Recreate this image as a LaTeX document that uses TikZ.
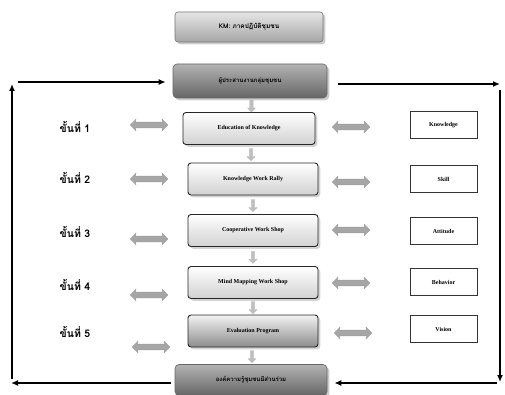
\documentclass[tikz,border=0pt]{standalone}
\usepackage{fontspec}
\setmainfont{Liberation Serif}
\newfontfamily\thaifont[Script=Thai]{Loma}
\usetikzlibrary{shapes.arrows,shadows,arrows.meta,calc}
\begin{document}
\begin{tikzpicture}[x=1pt,y=-1pt,
  headbox/.style={rounded corners=3pt, draw=black!55, line width=0.6pt,
    top color=black!10, bottom color=black!35, drop shadow={opacity=0.4},
    minimum width=148pt, minimum height=30pt, inner sep=0pt,
    font=\thaifont\bfseries\fontsize{6.5}{7}\selectfont},
  darkbox/.style={rounded corners=4pt, draw=black!60, line width=0.6pt,
    top color=black!30, bottom color=black!60, drop shadow={opacity=0.4},
    minimum width=154pt, minimum height=34pt, inner sep=0pt,
    font=\thaifont\bfseries\fontsize{6}{7}\selectfont},
  stepbox/.style={rounded corners=3pt, draw=black!85, line width=0.9pt,
    top color=white, bottom color=black!18, drop shadow={opacity=0.35},
    minimum width=130pt, minimum height=32pt, inner sep=0pt,
    font=\bfseries\fontsize{6}{7}\selectfont},
  laststep/.style={stepbox, top color=black!5, bottom color=black!45},
  resbox/.style={draw=black!80, line width=1pt, minimum width=67pt,
    minimum height=27pt, inner sep=0pt, font=\bfseries\fontsize{6}{7}\selectfont},
  steplabel/.style={font=\thaifont\bfseries\fontsize{10.5}{13}\selectfont, inner sep=0pt},
  darrow/.style={double arrow, fill=black!35, draw=black!40, line width=0.3pt,
    minimum height=38pt, minimum width=12pt, inner sep=2.4pt,
    double arrow head extend=2.8pt, double arrow head indent=0.5pt},
  downarr/.style={single arrow, shape border rotate=270, fill=black!25, draw=black!30,
    line width=0.3pt, minimum height=12pt, minimum width=8pt, inner sep=1.3pt,
    single arrow head extend=2pt},
  loop/.style={line width=1.6pt, -{Latex[length=7pt,width=6pt]}}
]
\useasboundingbox (0,0) rectangle (505,395);

% main column
\node[headbox] (km) at (249,27) {KM: ภาคปฏิบัติชุมชน};
\node[darkbox] (cb) at (250,81) {ผู้ประสานงานกลุ่มชุมชน};
\node[stepbox, minimum width=132pt] (s1) at (249,128.5) {Education of Knowledge};
\node[stepbox] (s2) at (253,179) {Knowledge Work Rally};
\node[stepbox] (s3) at (253,230.5) {Cooperative Work Shop};
\node[stepbox] (s4) at (253,282.5) {Mind Mapping Work Shop};
\node[laststep] (s5) at (253,331) {Evaluation Program};
\node[darkbox, minimum width=152pt, minimum height=31pt] (bb) at (251,380) {องค์ความรู้ชุมชนมีส่วนร่วม};

% small down arrows
\node[downarr] (d0) at ($(cb.south)!0.5!(s1.north)+(2,0)$) {};
\node[downarr] (d1) at ($(s1.south)!0.5!(s2.north)$) {};
\node[downarr] (d2) at ($(s2.south)!0.5!(s3.north)$) {};
\node[downarr] (d3) at ($(s3.south)!0.5!(s4.north)$) {};
\node[downarr] (d4) at ($(s4.south)!0.5!(s5.north)$) {};
\node[downarr] (d5) at ($(s5.south)!0.5!(bb.north)$) {};

% step labels
\node[steplabel] (l1) at (75,127) {ขั้นที่ 1};
\node[steplabel] (l2) at (75,178) {ขั้นที่ 2};
\node[steplabel] (l3) at (75,232) {ขั้นที่ 3};
\node[steplabel] (l4) at (75,285) {ขั้นที่ 4};
\node[steplabel] (l5) at (75,332) {ขั้นที่ 5};

% left double arrows
\node[darrow] (la1) at (149,125) {};
\node[darrow] (la2) at (149,179) {};
\node[darrow] (la3) at (149,239) {};
\node[darrow] (la4) at (149,295) {};
\node[darrow] (la5) at (151,347) {};

% right double arrows
\node[darrow] (ra1) at (351,127) {};
\node[darrow] (ra2) at (351,182) {};
\node[darrow] (ra3) at (351,230) {};
\node[darrow] (ra4) at (351,283) {};
\node[darrow] (ra5) at (353,333) {};

% result boxes
\node[resbox] (r1) at (443.5,125) {Knowledge};
\node[resbox] (r2) at (443.5,179.5) {Skill};
\node[resbox] (r3) at (443.5,231) {Attitude};
\node[resbox] (r4) at (443.5,282) {Behavior};
\node[resbox] (r5) at (443.5,329) {Vision};

% outer loop
\coordinate (lbot) at (12,379);
\coordinate (ltop) at (12,84);
\coordinate (tl) at (18,82);
\coordinate (tr) at (500,84);
\coordinate (rtop) at (500,90);
\coordinate (rbot) at (500,382);
\coordinate (br) at (497,383);
\coordinate (bl) at (11,383);

\draw[loop] (lbot) -- (ltop);
\draw[loop] (tl) -- ([xshift=-7pt,yshift=-1pt]cb.west);
\draw[loop] ([xshift=11pt,yshift=-3pt]cb.east) -- (tr);
\draw[loop, line width=1.4pt] (rtop) -- (rbot);
\draw[loop] (br) -- ([xshift=7pt,yshift=-3pt]bb.east);
\draw[loop] ([xshift=-4pt,yshift=-3pt]bb.west) -- (bl);
\end{tikzpicture}
\end{document}
